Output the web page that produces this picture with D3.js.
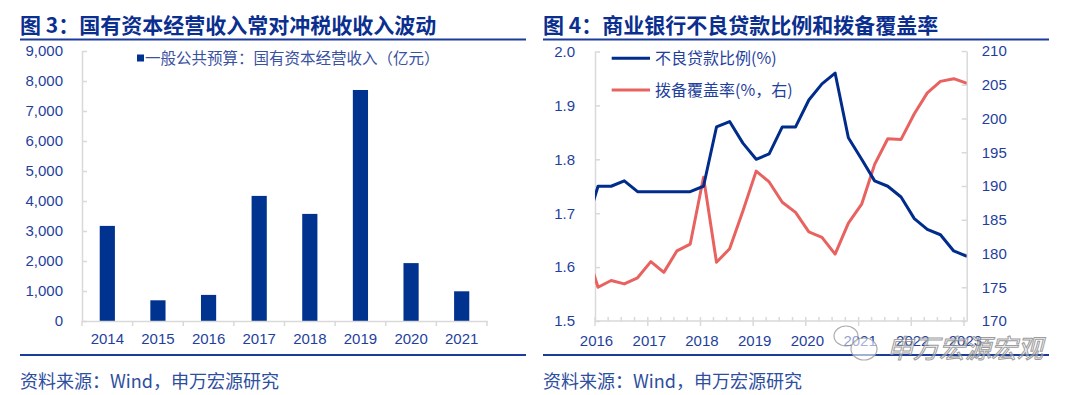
<!DOCTYPE html>
<html>
<head>
<meta charset="utf-8">
<script src="https://cdn.jsdelivr.net/npm/d3@7"></script>
<style>
  body { margin: 0; background: #fff; }
  svg { display: block; }
</style>
</head>
<body>
<div id="chart"></div>
<script>
// ---- data: figure 3 ----
const years = ["2014", "2015", "2016", "2017", "2018", "2019", "2020", "2021"];
const stateCapitalRevenue = [3170, 690, 870, 4170, 3570, 7700, 1930, 990];
const revenueTicks = [0, 1000, 2000, 3000, 4000, 5000, 6000, 7000, 8000, 9000];

// ---- data: figure 4 (quarterly) ----
const quarters = [
  "2015Q4",
  "2016Q1", "2016Q2", "2016Q3", "2016Q4",
  "2017Q1", "2017Q2", "2017Q3", "2017Q4",
  "2018Q1", "2018Q2", "2018Q3", "2018Q4",
  "2019Q1", "2019Q2", "2019Q3", "2019Q4",
  "2020Q1", "2020Q2", "2020Q3", "2020Q4",
  "2021Q1", "2021Q2", "2021Q3", "2021Q4",
  "2022Q1", "2022Q2", "2022Q3", "2022Q4",
  "2023Q1"
];
const nplRatio = [
  1.67,
  1.75, 1.75, 1.76, 1.74,
  1.74, 1.74, 1.74, 1.74,
  1.75, 1.86, 1.87, 1.83,
  1.80, 1.81, 1.86, 1.86,
  1.91, 1.94, 1.96, 1.84,
  1.80, 1.76, 1.75, 1.73,
  1.69, 1.67, 1.66, 1.63,
  1.62
];
const coverageRatio = [
  181.2,
  175.0, 176.0, 175.5, 176.4,
  178.8, 177.2, 180.4, 181.4,
  191.3, 178.7, 180.7, 186.3,
  192.2, 190.6, 187.6, 186.1,
  183.2, 182.4, 179.9, 184.5,
  187.3, 193.2, 197.0, 196.9,
  200.7, 203.8, 205.5, 205.9,
  205.2
];
const nplTicks = [1.5, 1.6, 1.7, 1.8, 1.9, 2.0];
const coverageTicks = [170, 175, 180, 185, 190, 195, 200, 205, 210];
const yearLabels = [2016, 2017, 2018, 2019, 2020, 2021, 2022, 2023];

// ---- styles ----
const navy = "#0b2f8f";
const barColor = "#00338f";
const blueLine = "#002c8c";
const redLine = "#e8625f";
const tickText = "#1f3f9e";
const axisGray = "#d9d9d9";
const numFont = "'Liberation Sans', Arial, sans-serif";
const cjkFont = "'Noto Sans CJK SC', 'Liberation Sans', sans-serif";

const svg = d3.select("#chart")
  .append("svg")
  .attr("width", 1080)
  .attr("height", 395);

// ---- panel frame: title, rules, source ----
function frame(x0, x1, title) {
  svg.append("text")
    .attr("x", x0)
    .attr("y", 33)
    .attr("fill", navy)
    .style("font-family", cjkFont)
    .style("font-weight", "bold")
    .style("font-size", "21px")
    .text(title);

  svg.append("line")
    .attr("x1", x0).attr("x2", x1)
    .attr("y1", 39.5).attr("y2", 39.5)
    .attr("stroke", "#1a3d9c")
    .attr("stroke-width", 2);

  svg.append("line")
    .attr("x1", x0).attr("x2", x1)
    .attr("y1", 355).attr("y2", 355)
    .attr("stroke", "#1a3d9c")
    .attr("stroke-width", 2);

  svg.append("text")
    .attr("x", x0)
    .attr("y", 388)
    .attr("fill", "#2e4e9e")
    .style("font-family", cjkFont)
    .style("font-size", "18px")
    .text("资料来源：Wind，申万宏源研究");
}

frame(20, 526, "图 3：国有资本经营收入常对冲税收收入波动");
frame(543, 1049, "图 4：商业银行不良贷款比例和拨备覆盖率");

function styleAxis(g) {
  g.select(".domain").attr("stroke", axisGray).attr("stroke-width", 1.5);
  g.selectAll(".tick line").attr("stroke", axisGray).attr("stroke-width", 1.5);
  g.selectAll(".tick text")
    .attr("fill", tickText)
    .style("font-family", numFont)
    .style("font-size", "15px");
}

// ---- figure 3: bars ----
const x3 = d3.scaleBand()
  .domain(years)
  .range([82, 487])
  .paddingInner(0.7)
  .paddingOuter(0.35);

const y3 = d3.scaleLinear()
  .domain([0, 9000])
  .range([321, 51]);

svg.append("g")
  .selectAll("rect")
  .data(years)
  .join("rect")
  .attr("x", d => x3(d))
  .attr("y", (d, i) => y3(stateCapitalRevenue[i]))
  .attr("width", x3.bandwidth())
  .attr("height", (d, i) => y3(0) - y3(stateCapitalRevenue[i]))
  .attr("fill", barColor);

svg.append("g")
  .attr("transform", "translate(82,0)")
  .call(d3.axisLeft(y3)
    .tickValues(revenueTicks)
    .tickFormat(d3.format(","))
    .tickSize(-5)
    .tickSizeOuter(0)
    .tickPadding(19))
  .call(styleAxis);

const xAxis3 = svg.append("g")
  .attr("transform", "translate(0,321)")
  .call(d3.axisBottom(x3).tickSize(0).tickSizeOuter(0).tickPadding(12))
  .call(styleAxis);

// ticks between categories
const step3 = x3.step();
const edges3 = years.map(d => x3(d) - (step3 - x3.bandwidth()) / 2)
  .concat([x3(years[years.length - 1]) + x3.bandwidth() + (step3 - x3.bandwidth()) / 2]);
xAxis3.selectAll(".edge")
  .data(edges3)
  .join("line")
  .attr("x1", d => d).attr("x2", d => d)
  .attr("y1", 0).attr("y2", 5)
  .attr("stroke", axisGray)
  .attr("stroke-width", 1.5);

// legend
svg.append("rect")
  .attr("x", 137).attr("y", 54.5)
  .attr("width", 7).attr("height", 7)
  .attr("fill", barColor);
svg.append("text")
  .attr("x", 145).attr("y", 63.5)
  .attr("fill", "#3a51a0")
  .style("font-family", cjkFont)
  .style("font-size", "15.5px")
  .text("一般公共预算：国有资本经营收入（亿元）");

// ---- figure 4: lines ----
// Wind date axis: each quarter sits a few weeks after the quarter start
const parseQuarter = s => new Date(+s.slice(0, 4), (+s.slice(5) - 1) * 3, 22);

const x4 = d3.scaleTime()
  .domain([new Date(2016, 0, 1), new Date(2023, 0, 20)])
  .range([595, 966.7]);

const yL = d3.scaleLinear().domain([1.5, 2.0]).range([321, 51.5]);
const yR = d3.scaleLinear().domain([170, 210]).range([321, 51]);

svg.append("clipPath")
  .attr("id", "plot4")
  .append("rect")
  .attr("x", 595).attr("y", 40)
  .attr("width", 966.7 - 595).attr("height", 290);

const series = quarters.map((q, i) => ({
  date: parseQuarter(q),
  npl: nplRatio[i],
  cov: coverageRatio[i]
}));

// axes first, lines on top
const xAxis4 = svg.append("g").attr("transform", "translate(0,321)");
xAxis4.append("line")
  .attr("x1", 595).attr("x2", 966.7)
  .attr("stroke", axisGray).attr("stroke-width", 1.5);
xAxis4.selectAll(".minor")
  .data(d3.timeMonth.every(3).range(new Date(2016, 0, 1), new Date(2023, 1, 1)))
  .join("line")
  .attr("x1", d => x4(d)).attr("x2", d => x4(d))
  .attr("y1", 0).attr("y2", -4)
  .attr("stroke", axisGray).attr("stroke-width", 1.5);
xAxis4.selectAll(".major")
  .data(yearLabels)
  .join("line")
  .attr("x1", d => x4(new Date(d, 0, 1))).attr("x2", d => x4(new Date(d, 0, 1)))
  .attr("y1", 0).attr("y2", 5)
  .attr("stroke", axisGray).attr("stroke-width", 1.5);
xAxis4.selectAll("text")
  .data(yearLabels)
  .join("text")
  .attr("x", d => x4(new Date(d, 0, 1)) + 1.5)
  .attr("y", 25)
  .attr("text-anchor", "middle")
  .attr("fill", tickText)
  .style("font-family", numFont)
  .style("font-size", "15px")
  .text(d => d);

svg.append("g")
  .attr("transform", "translate(595,0)")
  .call(d3.axisLeft(yL)
    .tickValues(nplTicks)
    .tickFormat(d3.format(".1f"))
    .tickSize(-5)
    .tickSizeOuter(0)
    .tickPadding(20))
  .call(styleAxis);

svg.append("g")
  .attr("transform", "translate(966.7,0)")
  .call(d3.axisRight(yR)
    .tickValues(coverageTicks)
    .tickSize(-5)
    .tickSizeOuter(0)
    .tickPadding(15))
  .call(styleAxis);

const plot4 = svg.append("g").attr("clip-path", "url(#plot4)");

plot4.append("path")
  .datum(series)
  .attr("fill", "none")
  .attr("stroke", redLine)
  .attr("stroke-width", 3)
  .attr("stroke-linejoin", "round")
  .attr("d", d3.line().x(d => x4(d.date)).y(d => yR(d.cov)));

plot4.append("path")
  .datum(series)
  .attr("fill", "none")
  .attr("stroke", blueLine)
  .attr("stroke-width", 3)
  .attr("stroke-linejoin", "round")
  .attr("d", d3.line().x(d => x4(d.date)).y(d => yL(d.npl)));

// legend
const legend4 = [
  { name: "不良贷款比例(%)", color: blueLine, y: 58.3 },
  { name: "拨备覆盖率(%，右)", color: redLine, y: 90 }
];
const lg = svg.append("g");
lg.selectAll("line")
  .data(legend4)
  .join("line")
  .attr("x1", 611.7).attr("x2", 650)
  .attr("y1", d => d.y).attr("y2", d => d.y)
  .attr("stroke", d => d.color)
  .attr("stroke-width", 3);
lg.selectAll("text")
  .data(legend4)
  .join("text")
  .attr("x", 655)
  .attr("y", d => d.y + 5.5)
  .attr("fill", "#1f3f9e")
  .style("font-family", cjkFont)
  .style("font-size", "16px")
  .text(d => d.name);

// ---- watermark ----
const wm = svg.append("g").attr("opacity", 0.85);
wm.append("ellipse")
  .attr("cx", 846).attr("cy", 336).attr("rx", 12).attr("ry", 10)
  .attr("fill", "rgba(255,255,255,0.6)").attr("stroke", "#a0a0a0").attr("stroke-width", 1.2);
wm.append("ellipse")
  .attr("cx", 864).attr("cy", 349).attr("rx", 13).attr("ry", 11)
  .attr("fill", "rgba(255,255,255,0.7)").attr("stroke", "#a0a0a0").attr("stroke-width", 1.2);
wm.append("text")
  .attr("x", 887).attr("y", 358)
  .attr("fill", "rgba(255,255,255,0.55)")
  .attr("stroke", "#8c8c8c")
  .attr("stroke-width", 1)
  .style("font-family", cjkFont)
  .style("font-size", "26px")
  .style("font-style", "italic")
  .text("申万宏源宏观");
</script>
</body>
</html>
